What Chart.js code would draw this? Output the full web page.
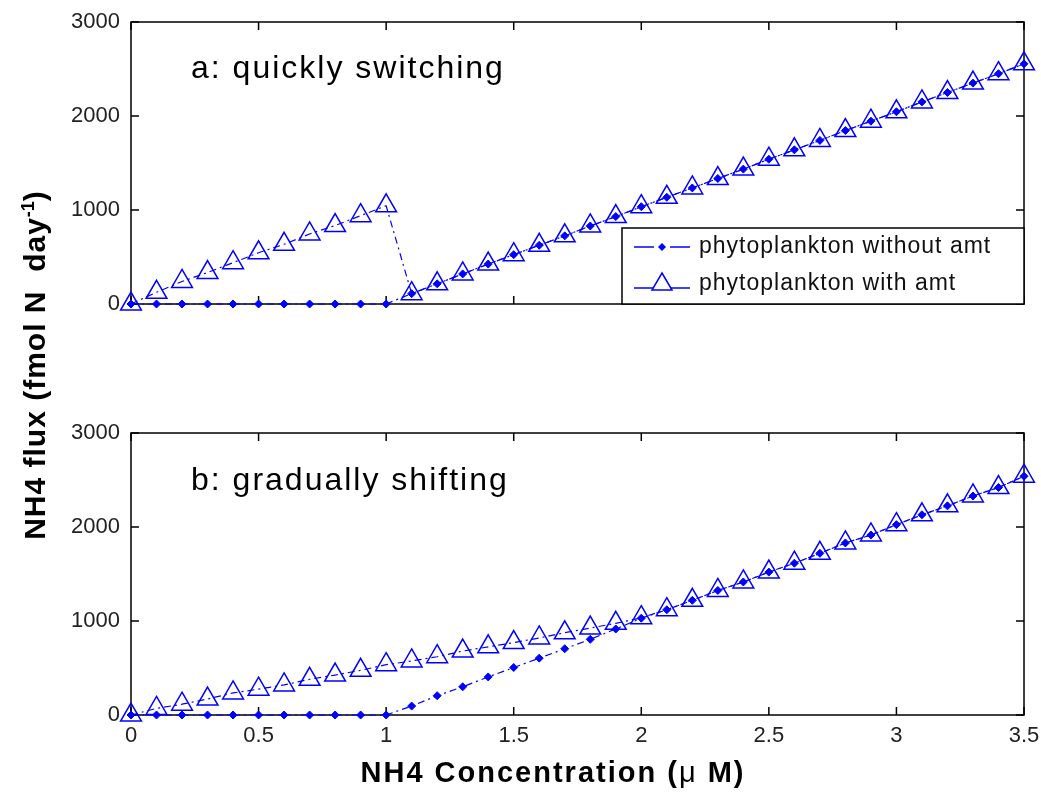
<!DOCTYPE html>
<html>
<head>
<meta charset="utf-8">
<script src="https://cdn.jsdelivr.net/npm/chart.js@4.4.1/dist/chart.umd.min.js"></script>
<style>
  body { margin: 0; background: #fff; width: 1041px; height: 792px; position: relative; overflow: hidden; font-family: 'Liberation Sans', Arial, sans-serif; }
  canvas { position: absolute; left: 0; }
  #chartA { top: 0; }
  #chartB { top: 400px; }
  .panel-label { position: absolute; font-size: 32px; line-height: 32px; letter-spacing: 2px; color: #000; white-space: nowrap; }
  #ytitle { position: absolute; left: -215px; top: 350px; width: 500px; height: 30px; text-align: center;
            transform: rotate(-90deg); font-weight: bold; font-size: 30px; line-height: 30px; letter-spacing: 1px; white-space: nowrap; }
  #ytitle .sup { font-size: 18px; position: relative; top: -11px; letter-spacing: 0; }
  #xtitle { position: absolute; left: 303px; width: 500px; top: 758px; text-align: center; font-weight: bold; font-size: 29px; line-height: 29px; letter-spacing: 2px; white-space: nowrap; }
  #xtitle .mu { font-weight: normal; }
</style>
</head>
<body>
<canvas id="chartA" width="1041" height="330"></canvas>
<canvas id="chartB" width="1041" height="392"></canvas>
<div class="panel-label" style="left:191px; top:51px;">a: quickly switching</div>
<div class="panel-label" style="left:191px; top:463px;">b: gradually shifting</div>
<div id="ytitle">NH4 flux (fmol N&nbsp; day<span class="sup">-1</span>)</div>
<div id="xtitle">NH4 Concentration (<span class="mu">μ</span> M)</div>
<script>
// NH4 concentration (uM)
const conc = [0, 0.1, 0.2, 0.3, 0.4, 0.5, 0.6, 0.7, 0.8, 0.9, 1.0, 1.1, 1.2, 1.3, 1.4, 1.5, 1.6, 1.7,
              1.8, 1.9, 2.0, 2.1, 2.2, 2.3, 2.4, 2.5, 2.6, 2.7, 2.8, 2.9, 3.0, 3.1, 3.2, 3.3, 3.4, 3.5];

// panel a: quickly switching
const aWithout = [0, 0, 0, 0, 0, 0, 0, 0, 0, 0, 0, 110, 215, 320, 425, 525, 625, 725,
                  830, 930, 1035, 1135, 1235, 1335, 1435, 1540, 1640, 1740, 1845, 1945, 2045, 2150, 2250, 2350, 2450, 2555];
const aWith = [0, 125, 240, 335, 440, 545, 635, 745, 835, 940, 1045, 110, 215, 320, 425, 525, 625, 725,
               830, 930, 1035, 1135, 1235, 1335, 1435, 1540, 1640, 1740, 1845, 1945, 2045, 2150, 2250, 2350, 2450, 2555];

// panel b: gradually shifting
const bWithout = [0, 0, 0, 0, 0, 0, 0, 0, 0, 0, 0, 95, 205, 300, 405, 505, 605, 705,
                  805, 915, 1030, 1120, 1220, 1325, 1415, 1520, 1615, 1720, 1830, 1915, 2025, 2130, 2225, 2330, 2420, 2540];
const bWith = [0, 70, 115, 170, 235, 275, 320, 380, 425, 475, 535, 575, 620, 680, 725, 770, 820, 875,
               925, 975, 1035, 1120, 1220, 1325, 1415, 1520, 1615, 1720, 1830, 1915, 2025, 2130, 2225, 2330, 2420, 2540];

const xTicks = [0, 0.5, 1, 1.5, 2, 2.5, 3, 3.5];
const yTicks = [0, 1000, 2000, 3000];
const legendNames = ['phytoplankton without amt', 'phytoplankton with amt'];

const BLUE = '#0000ff';
const FONT = "'Liberation Sans', Arial, sans-serif";
const DASHDOT = [7, 4, 2, 4];

function pts(ys) {
    return conc.map((x, i) => ({ x: x, y: ys[i] }));
}

// box + inward tick marks, matlab style
const framePlugin = {
    id: 'frame',
    beforeDatasetsDraw(chart) {
        const { ctx, chartArea: a, scales } = chart;
        ctx.save();
        ctx.strokeStyle = '#000';
        ctx.lineWidth = 1.5;
        ctx.strokeRect(a.left, a.top, a.right - a.left, a.bottom - a.top);
        const len = 8;
        ctx.beginPath();
        xTicks.forEach(v => {
            const px = scales.x.getPixelForValue(v);
            ctx.moveTo(px, a.bottom); ctx.lineTo(px, a.bottom - len);
            ctx.moveTo(px, a.top); ctx.lineTo(px, a.top + len);
        });
        yTicks.forEach(v => {
            const py = scales.y.getPixelForValue(v);
            ctx.moveTo(a.left, py); ctx.lineTo(a.left + len, py);
            ctx.moveTo(a.right, py); ctx.lineTo(a.right - len, py);
        });
        ctx.stroke();
        ctx.restore();
    }
};

// legend box in lower right of panel a
const legendPlugin = {
    id: 'boxLegend',
    afterDraw(chart) {
        if (!chart.options.plugins.boxLegend || !chart.options.plugins.boxLegend.show) return;
        const { ctx, chartArea: a } = chart;
        const w = 402, h = 76;
        const x0 = a.right - w, y0 = a.bottom - h;
        ctx.save();
        ctx.fillStyle = '#fff';
        ctx.fillRect(x0, y0, w, h);
        ctx.strokeStyle = '#000';
        ctx.lineWidth = 1.5;
        ctx.strokeRect(x0, y0, w, h);

        const rows = [y0 + 19, y0 + 56];
        ctx.strokeStyle = BLUE;
        ctx.lineWidth = 1.5;
        // row 1: dashed line with diamond
        ctx.beginPath();
        ctx.moveTo(x0 + 12, rows[0]); ctx.lineTo(x0 + 32, rows[0]);
        ctx.moveTo(x0 + 48, rows[0]); ctx.lineTo(x0 + 68, rows[0]);
        ctx.stroke();
        ctx.fillStyle = BLUE;
        ctx.beginPath();
        ctx.moveTo(x0 + 40, rows[0] - 4); ctx.lineTo(x0 + 44, rows[0]);
        ctx.lineTo(x0 + 40, rows[0] + 4); ctx.lineTo(x0 + 36, rows[0]);
        ctx.closePath(); ctx.fill();
        // row 2: solid line with triangle
        ctx.beginPath();
        ctx.moveTo(x0 + 12, rows[1] + 4); ctx.lineTo(x0 + 68, rows[1] + 4);
        ctx.stroke();
        ctx.fillStyle = '#fff';
        ctx.beginPath();
        ctx.moveTo(x0 + 40, rows[1] - 11); ctx.lineTo(x0 + 50, rows[1] + 6);
        ctx.lineTo(x0 + 30, rows[1] + 6); ctx.closePath();
        ctx.fill(); ctx.stroke();

        ctx.fillStyle = '#111';
        ctx.font = '23px ' + FONT;
        ctx.letterSpacing = '1px';
        ctx.textBaseline = 'middle';
        ctx.textAlign = 'left';
        ctx.fillText(legendNames[0], x0 + 77, rows[0]);
        ctx.fillText(legendNames[1], x0 + 77, rows[1]);
        ctx.restore();
    }
};

function makeChart(id, without, withAmt, opts) {
    const ctx = document.getElementById(id).getContext('2d');
    return new Chart(ctx, {
        type: 'line',
        data: {
            datasets: [
                {
                    label: legendNames[0],
                    data: pts(without),
                    borderColor: BLUE,
                    borderWidth: 1.2,
                    borderDash: DASHDOT,
                    pointStyle: 'rectRot',
                    pointRadius: 4,
                    pointBackgroundColor: BLUE,
                    pointBorderColor: BLUE,
                    pointBorderWidth: 1,
                    clip: false
                },
                {
                    label: legendNames[1],
                    data: pts(withAmt),
                    borderColor: BLUE,
                    borderWidth: 1.2,
                    borderDash: DASHDOT,
                    pointStyle: 'triangle',
                    pointRadius: 12,
                    pointBackgroundColor: 'rgba(0,0,0,0)',
                    pointBorderColor: BLUE,
                    pointBorderWidth: 1.5,
                    clip: false
                }
            ]
        },
        options: {
            responsive: false,
            animation: false,
            layout: { padding: { left: 0, right: 17, top: opts.padTop, bottom: 0 } },
            plugins: {
                legend: { display: false },
                tooltip: { enabled: false },
                boxLegend: { show: opts.legend }
            },
            scales: {
                x: {
                    type: 'linear',
                    min: 0, max: 3.5,
                    afterBuildTicks: s => { s.ticks = xTicks.map(v => ({ value: v })); },
                    afterFit: s => { s.height = opts.xHeight; s.paddingLeft = 0; s.paddingRight = 0; },
                    grid: { display: false, drawTicks: false },
                    border: { display: false },
                    ticks: {
                        display: opts.xLabels,
                        padding: 8,
                        color: '#222',
                        font: { family: FONT, size: 22 },
                        maxRotation: 0,
                        callback: v => String(v)
                    }
                },
                y: {
                    min: 0, max: 3000,
                    afterBuildTicks: s => { s.ticks = yTicks.map(v => ({ value: v })); },
                    afterFit: s => { s.width = 131; s.paddingTop = 0; s.paddingBottom = 0; },
                    grid: { display: false, drawTicks: false },
                    border: { display: false },
                    ticks: {
                        padding: 11,
                        color: '#222',
                        font: { family: FONT, size: 22 },
                        callback: v => String(v)
                    }
                }
            }
        },
        plugins: [framePlugin, legendPlugin]
    });
}

makeChart('chartA', aWithout, aWith, { padTop: 22, xHeight: 26, xLabels: false, legend: true });
makeChart('chartB', bWithout, bWith, { padTop: 33, xHeight: 77, xLabels: true, legend: false });
</script>
</body>
</html>
